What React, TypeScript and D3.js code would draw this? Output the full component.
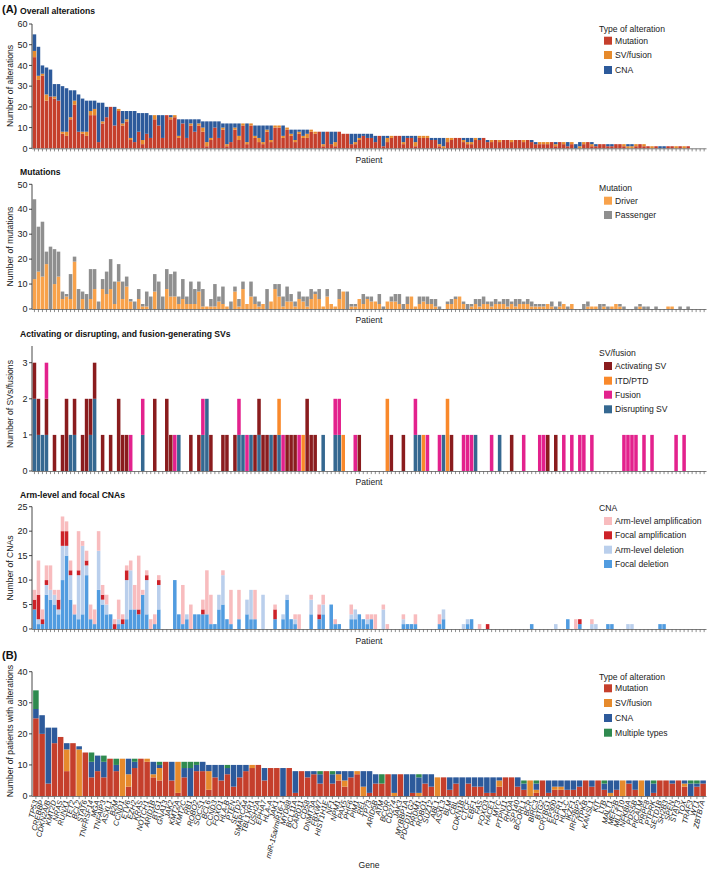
import React from "react";
import * as d3 from "d3";

const FONT = "'Liberation Sans', Arial, Helvetica, sans-serif";

// ---------------- Panel A data (168 patients, sorted by total alterations) ----------------
const patientIds = d3.range(168).map((i) => `P${i + 1}`);

const driverMutations = [
  12,15,13,18,0,10,13,4,5,4,
  19,0,4,0,4,8,0,8,6,8,
  2,11,4,9,3,0,4,1,1,0,
  7,0,0,8,5,5,2,4,2,2,
  2,7,1,1,1,1,3,2,1,0,
  7,1,8,2,5,2,1,2,0,3,
  8,5,1,3,3,1,4,3,1,4,
  6,4,1,5,2,1,4,7,0,1,
  1,4,2,4,3,3,2,0,3,3,
  3,2,0,2,5,1,2,3,2,2,
  1,0,0,2,2,4,5,2,0,1,
  2,1,2,2,1,2,2,2,1,2,
  1,2,2,2,1,1,1,1,2,1,
  0,1,2,0,2,0,0,0,1,1,
  1,0,1,0,1,2,1,0,0,0,
  0,1,0,0,0,0,0,0,1,1,
  0,0,0,0,0,0,0,0,
];
const passengerMutations = [
  32,18,22,5,25,14,10,3,1,10,
  2,8,3,6,12,8,3,4,9,12,
  9,7,7,4,1,3,4,1,6,5,
  7,11,5,8,9,10,3,8,3,9,
  6,4,7,0,3,9,2,7,0,3,
  2,3,3,0,6,3,2,0,8,0,
  2,5,4,6,3,2,3,2,4,4,
  1,4,0,3,0,0,4,0,7,1,
  1,0,4,1,2,0,4,1,0,2,
  3,4,2,3,0,0,3,2,3,2,
  3,1,0,1,2,1,0,1,2,1,
  2,3,3,1,2,2,1,2,3,1,
  3,2,1,2,2,1,1,1,0,2,
  1,2,0,1,0,0,0,2,2,0,
  0,2,1,1,0,0,1,1,0,0,
  1,1,1,1,0,1,0,0,0,0,
  0,1,0,1,0,0,0,0,
];
const overallSV = [
  3,2,1,3,0,1,0,1,2,1,
  2,0,1,2,2,3,0,1,0,0,
  0,1,1,1,1,0,0,2,0,0,
  2,0,0,0,1,1,1,0,0,1,
  0,1,2,2,1,0,0,1,1,0,
  1,2,1,1,1,1,2,1,1,1,
  1,1,1,1,1,1,1,1,2,1,
  1,0,1,0,0,2,0,0,0,0,
  1,1,0,0,0,0,0,0,2,1,
  0,0,1,0,0,2,1,1,1,0,
  0,1,1,2,1,0,0,1,1,1,
  1,0,0,0,1,0,1,0,0,1,
  0,0,1,0,0,0,1,1,1,0,
  1,0,1,0,1,0,1,1,0,1,
  0,0,0,0,0,0,0,1,1,1,
  1,0,1,0,1,0,0,0,0,0,
  1,0,1,0,0,0,0,0,
];
const overallCNA = [
  8,14,4,13,13,6,8,22,21,13,
  5,18,16,15,5,4,19,9,5,0,
  9,0,6,4,13,15,9,13,10,11,
  0,5,11,0,1,0,8,2,9,2,
  6,2,3,10,8,3,8,2,10,9,
  2,6,0,9,0,5,6,8,2,7,
  0,0,5,0,2,5,1,3,2,0,
  0,0,6,0,6,5,0,0,0,5,
  4,2,1,2,2,3,0,5,1,0,
  0,0,3,1,1,3,0,0,0,1,
  1,3,4,0,0,0,0,1,2,2,
  0,1,0,1,0,0,0,0,0,0,
  0,0,0,0,1,1,0,0,0,0,
  1,0,0,2,0,2,2,0,0,1,
  1,0,0,1,1,0,0,0,1,1,
  0,0,0,0,0,0,1,1,0,0,
  0,0,0,0,0,0,0,0,
];

const svActivating = [
  1,1,0,1,0,1,0,1,2,0,
  1,0,1,2,1,1,0,1,0,1,
  0,2,1,1,0,0,0,0,0,0,
  2,0,0,2,1,0,0,0,0,1,
  0,1,0,0,1,0,0,1,1,0,
  1,0,0,0,0,1,1,1,1,0,
  1,0,0,1,1,1,0,0,2,1,
  1,0,0,0,0,0,0,0,0,0,
  0,1,0,0,0,0,0,0,0,1,
  0,0,1,0,0,0,0,0,0,0,
  0,0,0,0,1,0,0,0,0,0,
  0,0,0,0,0,0,0,0,0,1,
  0,0,0,0,0,0,0,0,1,0,
  1,0,0,0,0,0,0,0,0,0,
  0,0,0,0,0,0,0,0,0,0,
  0,0,0,0,0,0,0,0,0,0,
  0,0,0,0,0,0,0,0,
];
const svItdPtd = [
  0,0,0,0,0,0,0,0,0,0,
  0,0,0,0,0,0,0,0,0,0,
  0,0,0,0,0,0,0,0,0,0,
  0,0,0,0,0,0,0,0,0,0,
  0,0,0,0,0,0,0,0,0,0,
  0,0,0,0,0,0,0,0,0,0,
  0,1,0,0,0,0,0,1,0,0,
  0,0,0,0,0,0,0,1,0,0,
  0,0,0,0,0,0,0,0,2,0,
  0,0,0,0,0,0,0,1,0,0,
  0,0,0,2,0,0,0,0,0,0,
  0,0,0,0,0,0,0,0,0,0,
  0,0,0,0,0,0,0,0,0,0,
  0,0,0,0,0,0,0,0,0,0,
  0,0,0,0,0,0,0,0,0,0,
  0,0,0,0,0,0,0,0,0,0,
  0,0,0,0,0,0,0,0,
];
const svFusion = [
  0,0,0,1,0,0,0,0,0,0,
  0,0,0,0,0,0,0,0,0,0,
  0,0,0,0,1,0,0,1,0,0,
  0,0,0,0,0,1,0,0,0,0,
  0,0,1,0,0,0,0,0,0,0,
  0,1,0,1,0,0,0,0,0,0,
  0,0,1,0,0,0,1,0,0,0,
  0,0,0,0,0,1,1,0,0,0,
  1,0,0,0,0,0,0,0,0,0,
  0,0,0,0,0,1,0,0,1,0,
  0,1,0,0,0,0,0,1,1,1,
  0,0,0,0,1,0,0,0,0,0,
  0,0,1,0,0,0,1,1,0,0,
  0,0,1,0,1,0,1,1,0,1,
  0,0,0,0,0,0,0,1,1,1,
  1,0,1,0,1,0,0,0,0,0,
  1,0,1,0,0,0,0,0,
];
const svDisrupting = [
  2,1,1,1,0,0,0,0,0,1,
  1,0,0,0,1,2,0,0,0,0,
  0,0,0,0,0,0,0,1,0,0,
  0,0,0,0,0,0,1,0,0,0,
  0,0,1,2,0,0,0,0,0,0,
  0,1,1,0,1,0,1,0,0,1,
  0,1,0,0,0,0,0,0,0,0,
  0,0,1,0,0,1,1,0,0,0,
  0,0,0,0,0,0,0,0,0,0,
  0,0,0,0,0,1,1,0,0,0,
  0,0,1,0,0,0,0,0,0,0,
  1,0,0,0,0,0,1,0,0,0,
  0,0,0,0,0,0,0,0,0,0,
  0,0,0,0,0,0,0,0,0,0,
  0,0,0,0,0,0,0,0,0,0,
  0,0,0,0,0,0,0,0,0,0,
  0,0,0,0,0,0,0,0,
];

const cnaArmAmp = [
  2,7,2,3,5,1,2,3,2,2,
  2,8,1,2,3,3,4,2,2,0,
  1,4,1,1,2,5,11,1,1,2,
  2,1,0,0,0,0,0,8,0,5,
  0,0,2,9,6,0,0,1,0,7,
  0,6,0,0,0,6,0,0,0,0,
  1,0,0,0,0,1,3,0,0,1,
  0,2,2,0,0,1,0,0,0,2,
  0,0,0,1,1,3,0,1,1,0,
  0,0,1,0,0,2,0,0,0,0,
  0,2,0,0,0,0,0,0,0,0,
  0,1,0,0,0,0,0,0,0,0,
  0,0,0,0,0,0,0,0,0,0,
  0,0,0,0,0,2,0,0,0,1,
  0,0,0,0,0,0,0,0,0,0,
  0,0,0,0,0,0,0,0,0,0,
  0,0,0,0,0,0,0,0,
];
const cnaFocalAmp = [
  2,5,1,1,0,0,2,3,3,1,
  0,1,0,1,0,0,0,1,0,0,
  1,0,1,2,0,0,1,0,1,0,
  0,1,0,0,0,0,0,0,0,0,
  0,0,1,0,0,0,0,0,0,0,
  0,0,0,0,0,0,0,0,0,0,
  2,0,0,0,0,0,0,0,0,0,
  0,1,0,0,0,0,0,0,0,0,
  0,0,0,0,0,0,0,0,0,0,
  0,0,0,0,0,0,0,0,0,0,
  0,0,0,0,0,0,0,0,0,0,
  0,0,0,1,0,0,0,0,0,0,
  0,0,0,0,0,0,0,0,0,0,
  0,0,0,0,0,0,1,0,0,0,
  0,0,0,0,0,0,0,0,0,0,
  0,0,0,0,0,0,0,0,0,0,
  0,0,0,0,0,0,0,0,
];
const cnaArmDel = [
  0,1,0,2,2,2,1,7,2,5,
  0,9,14,2,0,0,8,1,2,0,
  0,1,0,8,8,0,0,0,7,0,
  0,5,0,0,0,0,0,0,1,0,
  0,0,0,0,0,0,3,6,0,0,
  0,0,0,3,6,0,0,7,0,0,
  0,0,1,1,0,1,0,0,0,3,
  0,0,2,0,0,0,0,0,0,1,
  2,0,0,1,0,0,0,4,0,0,
  0,0,1,0,0,0,0,0,0,0,
  0,0,2,0,0,0,0,1,1,0,
  0,0,0,0,0,0,0,0,0,0,
  0,0,0,0,0,0,0,0,0,0,
  1,0,0,0,0,0,0,0,0,1,
  1,0,0,0,0,0,0,0,1,1,
  0,0,0,0,0,0,0,0,0,0,
  0,0,0,0,0,0,0,0,
];
const cnaFocalDel = [
  4,1,1,7,6,5,3,10,15,6,
  3,2,3,11,2,1,8,5,3,3,
  0,1,1,2,4,4,3,7,3,0,
  1,4,0,0,0,10,3,1,2,0,
  3,3,3,3,1,1,4,5,2,1,
  0,2,0,3,2,2,0,0,0,0,
  2,0,2,6,2,1,0,0,0,3,
  0,2,3,0,5,1,1,0,0,2,
  2,3,2,1,2,0,0,0,0,0,
  0,0,1,1,1,1,0,0,0,0,
  0,1,2,0,0,0,0,0,1,2,
  0,0,0,0,0,0,0,0,0,0,
  0,0,0,0,1,0,0,0,0,0,
  0,0,0,2,0,0,1,0,0,0,
  0,0,0,1,1,0,0,0,0,0,
  0,0,0,0,0,0,1,1,0,0,
  0,0,0,0,0,0,0,0,
];

// ---------------- Panel B data ----------------
const genes = [
  "TP53","CREBBP","CDKN2A/B","KMT2D","NRAS","RUNX1","TET2","BCL2","STAT6","TNFRSF14",
  "MGA","TNFAIP3","ASXL1","B2M","CCND1","ETV6","EZH2","KRAS","NOTCH1","ARID1B",
  "BTG1","GNA13","JAK2","KMT2A","KMT2C","RB1","ROBO2","SOCS1","BCL6","CCND3",
  "FOXO1","HLA-B","PTEN","SETD2","SMARCA4","TBL1XR1","USH2A","EPHA7","HLA-A","JAK1",
  "miR-15a/miR16-1","MYD88","BCL11A","CARD11","CD58","DNMT3A","FBXW7","HIST1H1E","NF1","NPM1",
  "PAX5","PHF6","PIM1","REL","TP73","ARID5B","ATM","BCOR","CD274","JAK3",
  "MYBBP1A","PDCD1LG2","PRDM1","ROBO1","SUZ12","ABL1","ASXL3","BLM","CBL","CDKN1B",
  "CTCF","EBF1","FAS","FOXO3","HACE1","MYC","PTPN11","RHOA","SP140","BCORL1",
  "BCR","BIRC3","BTG2","CRYBG1","EP300","FGFR1","HLA-C","IKZF1","IRF2BP2","ITPKB",
  "KANSL1","KIT","LTB","MALT1","MEF2B","MLLT10","NFKBIA","PDS5B","PICALM","PRPF8",
  "PTPRK","SETD1B","SH2B3","SPEN","STAT3","TOX","TRAF3","WT1","ZBTB7A",
];
const geneMutation = [
  25,20,4,17,19,8,17,0,14,6,
  8,6,12,8,0,3,9,12,11,6,
  5,11,5,1,6,0,8,8,2,6,
  5,7,3,6,8,9,10,5,9,9,
  0,9,1,8,6,7,4,8,4,5,
  3,6,7,0,1,4,4,7,0,7,
  0,1,0,4,3,0,6,2,4,0,
  4,3,3,1,1,3,6,6,3,2,
  0,1,5,1,2,2,2,2,3,5,
  3,5,2,0,2,0,4,2,0,0,
  1,5,5,4,5,3,0,3,4,
];
const geneSV = [
  0,0,0,0,0,7,0,15,0,0,
  0,0,0,0,12,4,0,0,1,1,
  4,0,0,10,0,0,0,0,6,0,
  0,0,0,0,0,1,0,0,0,0,
  0,0,0,0,0,0,0,0,0,2,
  2,0,1,3,0,0,0,0,1,0,
  0,0,1,0,0,6,0,0,0,0,
  0,0,0,0,0,2,0,0,0,0,
  5,1,0,0,1,1,0,0,0,0,
  0,0,0,1,0,5,0,0,5,0,
  0,0,0,0,0,1,0,0,0,
];
const geneCNA = [
  3,6,18,5,0,2,0,1,0,5,
  5,5,0,2,0,5,2,0,0,4,
  1,0,6,0,3,9,2,3,2,4,
  5,2,7,4,2,0,0,4,0,0,
  9,0,7,0,2,1,3,0,3,1,
  3,2,0,5,7,3,0,0,6,0,
  7,6,5,3,4,0,0,4,2,6,
  2,3,3,5,5,1,0,0,3,2,
  0,2,0,4,2,2,3,3,2,0,
  2,0,2,4,3,0,1,3,0,5,
  3,0,0,1,0,1,4,1,1,
];
const geneMultiple = [
  6,0,0,0,0,0,0,0,0,3,
  0,2,0,2,0,0,1,0,0,0,
  1,0,0,0,2,2,1,0,0,0,
  0,1,0,0,0,0,0,0,0,0,
  0,0,0,0,0,0,1,0,1,0,
  0,0,0,0,0,0,3,0,0,0,
  0,0,1,0,0,0,0,0,0,0,
  0,0,0,0,0,0,0,0,0,1,
  0,1,0,0,0,0,0,0,0,0,
  0,0,1,0,0,0,0,0,0,0,
  1,0,0,0,0,0,1,1,0,
];

// ---------------- Tick labels / legends ----------------
const ticksOverall = [0, 10, 20, 30, 40, 50, 60];
const ticksMutations = [0, 10, 20, 30, 40, 50];
const ticksSV = [0, 1, 2, 3];
const ticksCNA = [0, 5, 10, 15, 20, 25];
const ticksGenes = [0, 10, 20, 30, 40];

const C = {
  mutation: "#c53f2c",
  sv: "#e68a2c",
  cna: "#2d5a9b",
  multiple: "#2f8a4f",
  driver: "#f8a24b",
  passenger: "#8f8f8f",
  activating: "#8a1c1e",
  itd: "#f9892b",
  fusion: "#e3228d",
  disrupting: "#356891",
  armAmp: "#f8bcbe",
  focalAmp: "#cd2229",
  armDel: "#bacfec",
  focalDel: "#519ce0",
};

type Layer = { key: string; values: number[]; color: string };

function Stacked({ cats, layers, x, y }: { cats: string[]; layers: Layer[]; x: any; y: any }) {
  const rows = cats.map((c, i) => {
    const r: any = { cat: c };
    layers.forEach((l) => (r[l.key] = l.values[i]));
    return r;
  });
  const stack = d3.stack().keys(layers.map((l) => l.key))(rows as any);
  return (
    <g>
      {stack.map((s, li) => (
        <g key={layers[li].key} fill={layers[li].color}>
          {s.map((d: any, i: number) =>
            d[1] - d[0] > 0 ? (
              <rect
                key={i}
                x={x(cats[i])}
                width={x.bandwidth()}
                y={y(d[1])}
                height={y(d[0]) - y(d[1])}
              />
            ) : null
          )}
        </g>
      ))}
    </g>
  );
}

function YAxis({ y, ticks, x0, top, label, labelY }: any) {
  const yTop = top !== undefined ? top : y(ticks[ticks.length - 1]);
  return (
    <g fontFamily={FONT}>
      <line x1={x0} x2={x0} y1={y(0)} y2={yTop} stroke="#333" strokeWidth={0.9} />
      {ticks.map((t: number) => (
        <g key={t}>
          <line x1={x0 - 3} x2={x0} y1={y(t)} y2={y(t)} stroke="#333" strokeWidth={0.9} />
          <text x={x0 - 4.5} y={y(t) + 3.2} fontSize={9} textAnchor="end" fill="#222">
            {t}
          </text>
        </g>
      ))}
      <text
        transform={`translate(13,${labelY}) rotate(-90)`}
        fontSize={8.6}
        textAnchor="middle"
        fill="#222"
      >
        {label}
      </text>
    </g>
  );
}

function XAxis({ x, cats, y0, label, labelY }: any) {
  return (
    <g fontFamily={FONT}>
      <line x1={32} x2={706.5} y1={y0} y2={y0} stroke="#444" strokeWidth={0.7} />
      {cats.map((c: string) => {
        const cx = x(c) + x.bandwidth() / 2;
        return <line key={c} x1={cx} x2={cx} y1={y0} y2={y0 + 2.6} stroke="#444" strokeWidth={0.6} />;
      })}
      {label ? (
        <text x={369} y={labelY} fontSize={8.6} textAnchor="middle" fill="#222">
          {label}
        </text>
      ) : null}
    </g>
  );
}

function Legend({ title, items, titleY, ys }: any) {
  return (
    <g fontFamily={FONT} fontSize={8.6} fill="#222">
      <text x={599} y={titleY + 3}>{title}</text>
      {items.map((it: any, i: number) => (
        <g key={it.label}>
          <rect x={604} y={ys[i] - 4} width={8} height={8} fill={it.color} />
          <text x={615} y={ys[i] + 3.1}>{it.label}</text>
        </g>
      ))}
    </g>
  );
}

function Title({ text, y }: any) {
  return (
    <text x={20} y={y} fontFamily={FONT} fontSize={8.6} fontWeight="bold" fill="#111">
      {text}
    </text>
  );
}

export default function App() {
  const xP = d3.scaleBand<string>().domain(patientIds).range([32.6, 706]).paddingInner(0.12).paddingOuter(0.02);
  const xG = d3.scaleBand<string>().domain(genes).range([33, 706]).paddingInner(0.1).paddingOuter(0.02);

  const totalMutations = driverMutations.map((d, i) => d + passengerMutations[i]);

  const y1 = d3.scaleLinear().domain([0, 60]).range([148.3, 24]);
  const y2 = d3.scaleLinear().domain([0, 50]).range([309, 184.3]);
  const y3 = d3.scaleLinear().domain([0, 3]).range([471, 362.7]);
  const y4 = d3.scaleLinear().domain([0, 25]).range([629, 506.7]);
  const y5 = d3.scaleLinear().domain([0, 40]).range([796, 671.7]);

  return (
    <svg
      width={709}
      height={872}
      viewBox="0 0 709 872"
      style={{ position: "absolute", left: 0, top: 0, background: "#fff" }}
    >
      <rect width={709} height={872} fill="#fff" />
      <text x={2} y={12.5} fontFamily={FONT} fontSize={11} fontWeight="bold" fill="#111">(A)</text>

      {/* Panel 1 */}
      <Title text="Overall alterations" y={14} />
      <Stacked
        cats={patientIds}
        x={xP}
        y={y1}
        layers={[
          { key: "mut", values: totalMutations, color: C.mutation },
          { key: "sv", values: overallSV, color: C.sv },
          { key: "cna", values: overallCNA, color: C.cna },
        ]}
      />
      <YAxis y={y1} ticks={ticksOverall} x0={32} label="Number of alterations" labelY={86} />
      <XAxis x={xP} cats={patientIds} y0={148.8} label="Patient" labelY={163} />
      <Legend
        title="Type of alteration"
        titleY={29}
        ys={[40.7, 55, 70]}
        items={[
          { label: "Mutation", color: C.mutation },
          { label: "SV/fusion", color: C.sv },
          { label: "CNA", color: C.cna },
        ]}
      />

      {/* Panel 2 */}
      <Title text="Mutations" y={175} />
      <Stacked
        cats={patientIds}
        x={xP}
        y={y2}
        layers={[
          { key: "driver", values: driverMutations, color: C.driver },
          { key: "passenger", values: passengerMutations, color: C.passenger },
        ]}
      />
      <YAxis y={y2} ticks={ticksMutations} x0={32} label="Number of mutations" labelY={246.5} />
      <XAxis x={xP} cats={patientIds} y0={309.5} label="Patient" labelY={323} />
      <Legend
        title="Mutation"
        titleY={188.3}
        ys={[200.7, 215]}
        items={[
          { label: "Driver", color: C.driver },
          { label: "Passenger", color: C.passenger },
        ]}
      />

      {/* Panel 3 */}
      <Title text="Activating or disrupting, and fusion-generating SVs" y={337} />
      <Stacked
        cats={patientIds}
        x={xP}
        y={y3}
        layers={[
          { key: "dis", values: svDisrupting, color: C.disrupting },
          { key: "act", values: svActivating, color: C.activating },
          { key: "itd", values: svItdPtd, color: C.itd },
          { key: "fus", values: svFusion, color: C.fusion },
        ]}
      />
      <YAxis y={y3} ticks={ticksSV} x0={32} top={346} label="Number of SVs/fusions" labelY={404} />
      <XAxis x={xP} cats={patientIds} y0={471.5} label="Patient" labelY={485} />
      <Legend
        title="SV/fusion"
        titleY={353.3}
        ys={[366, 380.7, 394.7, 409.3]}
        items={[
          { label: "Activating SV", color: C.activating },
          { label: "ITD/PTD", color: C.itd },
          { label: "Fusion", color: C.fusion },
          { label: "Disrupting SV", color: C.disrupting },
        ]}
      />

      {/* Panel 4 */}
      <Title text="Arm-level and focal CNAs" y={498} />
      <Stacked
        cats={patientIds}
        x={xP}
        y={y4}
        layers={[
          { key: "fdel", values: cnaFocalDel, color: C.focalDel },
          { key: "adel", values: cnaArmDel, color: C.armDel },
          { key: "famp", values: cnaFocalAmp, color: C.focalAmp },
          { key: "aamp", values: cnaArmAmp, color: C.armAmp },
        ]}
      />
      <YAxis y={y4} ticks={ticksCNA} x0={32} label="Number of CNAs" labelY={568} />
      <XAxis x={xP} cats={patientIds} y0={629.5} label="Patient" labelY={644} />
      <Legend
        title="CNA"
        titleY={508.3}
        ys={[521, 535.3, 549.7, 564]}
        items={[
          { label: "Arm-level amplification", color: C.armAmp },
          { label: "Focal amplification", color: C.focalAmp },
          { label: "Arm-level deletion", color: C.armDel },
          { label: "Focal deletion", color: C.focalDel },
        ]}
      />

      {/* Panel B */}
      <text x={2} y={659} fontFamily={FONT} fontSize={11} fontWeight="bold" fill="#111">(B)</text>
      <Stacked
        cats={genes}
        x={xG}
        y={y5}
        layers={[
          { key: "mut", values: geneMutation, color: C.mutation },
          { key: "sv", values: geneSV, color: C.sv },
          { key: "cna", values: geneCNA, color: C.cna },
          { key: "multi", values: geneMultiple, color: C.multiple },
        ]}
      />
      <YAxis y={y5} ticks={ticksGenes} x0={32} label="Number of patients with alterations" labelY={731} />
      <XAxis x={xG} cats={genes} y0={796.5} />
      <g fontFamily={FONT} fontSize={7.6} fontStyle="italic" fill="#222">
        {genes.map((g) => {
          const cx = xG(g)! + xG.bandwidth() / 2 + 2;
          return (
            <text key={g} transform={`translate(${cx},${801}) rotate(-76)`} textAnchor="end">
              {g}
            </text>
          );
        })}
      </g>
      <text x={369} y={868} fontFamily={FONT} fontSize={8.6} textAnchor="middle" fill="#222">Gene</text>
      <Legend
        title="Type of alteration"
        titleY={676.7}
        ys={[688.3, 703, 718, 732.7]}
        items={[
          { label: "Mutation", color: C.mutation },
          { label: "SV/fusion", color: C.sv },
          { label: "CNA", color: C.cna },
          { label: "Multiple types", color: C.multiple },
        ]}
      />
    </svg>
  );
}
